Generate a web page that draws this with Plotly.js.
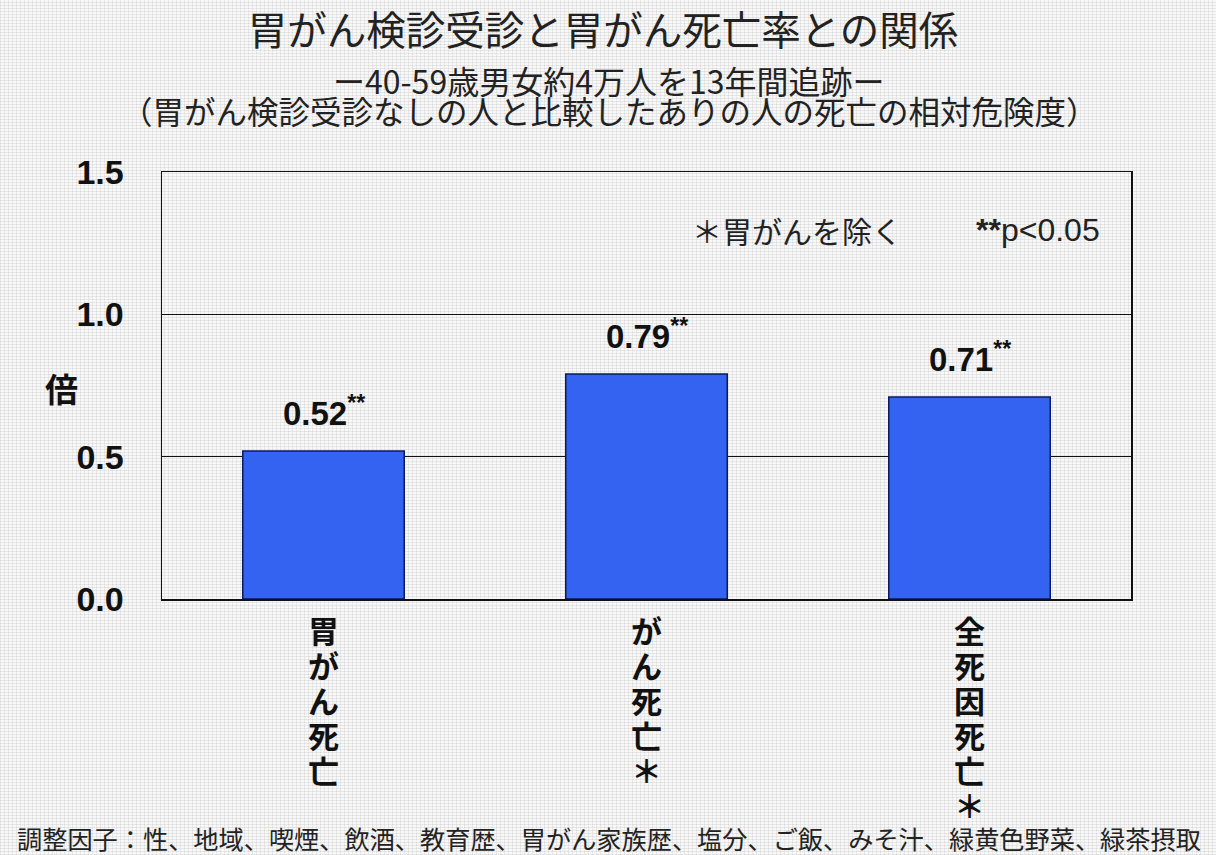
<!DOCTYPE html>
<html>
<head>
<meta charset="utf-8">
<script src="https://cdn.plot.ly/plotly-3.0.1.min.js"></script>
<style>
  html, body { margin: 0; padding: 0; }
  body {
    width: 1216px; height: 855px; overflow: hidden;
    background-color: #f8f8f8;
    background-image:
      repeating-linear-gradient(0deg, rgba(0,0,0,0.07) 0 1px, transparent 1px 3px),
      repeating-linear-gradient(90deg, rgba(0,0,0,0.06) 0 1px, transparent 1px 4px);
  }
  #chart { width: 1216px; height: 855px; }
</style>
</head>
<body>
<div id="chart"></div>
<script>
// Relative risk of death for people screened for stomach cancer vs. not screened
const categories = ['胃がん死亡', 'がん死亡＊', '全死因死亡＊'];
const relativeRisk = [0.52, 0.79, 0.71];
const significance = ['**', '**', '**'];
const yTickVals = [0, 0.5, 1.0, 1.5];
const yTickText = ['0.0', '0.5', '1.0', '1.5'];

const titleText = '胃がん検診受診と胃がん死亡率との関係';
const subtitle1 = 'ー40-59歳男女約4万人を13年間追跡ー';
const subtitle2 = '（胃がん検診受診なしの人と比較したありの人の死亡の相対危険度）';
const yUnit = '倍';
const noteExcl = '＊胃がんを除く';
const noteSig = '**p<0.05';
const footnote = '調整因子：性、地域、喫煙、飲酒、教育歴、胃がん家族歴、塩分、ご飯、みそ汁、緑黄色野菜、緑茶摂取';

const JP = '"Noto Sans CJK JP", "Noto Sans", sans-serif';
const LAT = '"Liberation Sans", Arial, sans-serif';

// plot area in pixels, used to place page-level texts in paper coordinates
const PLOT = { left: 162, right: 1131, top: 172, bottom: 599 };
const px = x => (x - PLOT.left) / (PLOT.right - PLOT.left);
const py = y => (PLOT.bottom - y) / (PLOT.bottom - PLOT.top);

const trace = {
  type: 'bar',
  x: categories,
  y: relativeRisk,
  marker: { color: '#3463f2', line: { color: '#0b1a5c', width: 1.5 } },
  hoverinfo: 'x+y'
};

const annotations = [];

// value labels above each bar
categories.forEach((c, i) => {
  annotations.push({
    x: c, y: relativeRisk[i], xref: 'x', yref: 'y',
    text: relativeRisk[i].toFixed(2) + '<sup>' + significance[i] + '</sup>',
    showarrow: false, xanchor: 'center', yanchor: 'bottom', yshift: 17,
    font: { family: LAT, size: 33, color: '#111', weight: 'bold' }
  });
});

// category names written vertically under each bar, one character per row
const charPitch = 35;
categories.forEach(c => {
  Array.from(c).forEach((ch, j) => {
    annotations.push({
      x: c, y: 0, xref: 'x', yref: 'y',
      text: ch, showarrow: false, xanchor: 'center', yanchor: 'middle',
      yshift: -(30 + j * charPitch),
      font: { family: JP, size: 31, color: '#111', weight: 'bold' }
    });
  });
});

// subtitle lines
annotations.push({
  xref: 'paper', yref: 'paper', x: px(608), y: py(80),
  text: subtitle1, showarrow: false, xanchor: 'center', yanchor: 'middle',
  font: { family: JP, size: 32, color: '#222' }
});
annotations.push({
  xref: 'paper', yref: 'paper', x: px(609), y: py(110),
  text: subtitle2, showarrow: false, xanchor: 'center', yanchor: 'middle',
  font: { family: JP, size: 31.5, color: '#222' }
});

// y-axis unit
annotations.push({
  xref: 'paper', yref: 'paper', x: px(61), y: py(388),
  text: yUnit, showarrow: false, xanchor: 'center', yanchor: 'middle',
  font: { family: JP, size: 33, color: '#111', weight: 'bold' }
});

// notes inside the plot
annotations.push({
  xref: 'paper', yref: 'paper', x: px(690), y: py(230),
  text: noteExcl, showarrow: false, xanchor: 'left', yanchor: 'middle',
  font: { family: JP, size: 30, color: '#222' }
});
annotations.push({
  xref: 'paper', yref: 'paper', x: px(1102), y: py(230),
  text: '<b>' + noteSig.slice(0, 2) + '</b>' + noteSig.slice(2).replace('<', '&lt;'),
  showarrow: false, xanchor: 'right', yanchor: 'middle',
  font: { family: LAT, size: 32, color: '#222' }
});

// adjustment factors footnote
annotations.push({
  xref: 'paper', yref: 'paper', x: px(609), y: py(838),
  text: footnote, showarrow: false, xanchor: 'center', yanchor: 'middle',
  font: { family: JP, size: 25.2, color: '#222' }
});

const layout = {
  width: 1216, height: 855,
  margin: { l: PLOT.left, r: 1216 - PLOT.right, t: PLOT.top, b: 855 - PLOT.bottom, pad: 0 },
  paper_bgcolor: 'rgba(0,0,0,0)',
  plot_bgcolor: 'rgba(0,0,0,0)',
  showlegend: false,
  bargap: 0.5,
  title: {
    text: titleText,
    x: 603 / 1216, xref: 'container', xanchor: 'center',
    y: 1 - 31 / 855, yref: 'container', yanchor: 'middle',
    font: { family: JP, size: 39.5, color: '#222' }
  },
  xaxis: {
    type: 'category',
    categoryorder: 'array', categoryarray: categories,
    showticklabels: false,
    showline: true, linecolor: '#111', linewidth: 1.5, mirror: true,
    showgrid: false, ticks: '',
    fixedrange: true
  },
  yaxis: {
    range: [0, 1.5],
    tickvals: yTickVals, ticktext: yTickText,
    tickfont: { family: LAT, size: 34, color: '#111', weight: 'bold' },
    showline: true, linecolor: '#111', linewidth: 1.5, mirror: true,
    showgrid: true, gridcolor: '#111', gridwidth: 1.3,
    zeroline: false, ticks: '', ticklabelstandoff: 30,
    fixedrange: true
  },
  annotations: annotations
};

Plotly.newPlot('chart', [trace], layout, { displayModeBar: false, staticPlot: true });
</script>
</body>
</html>
